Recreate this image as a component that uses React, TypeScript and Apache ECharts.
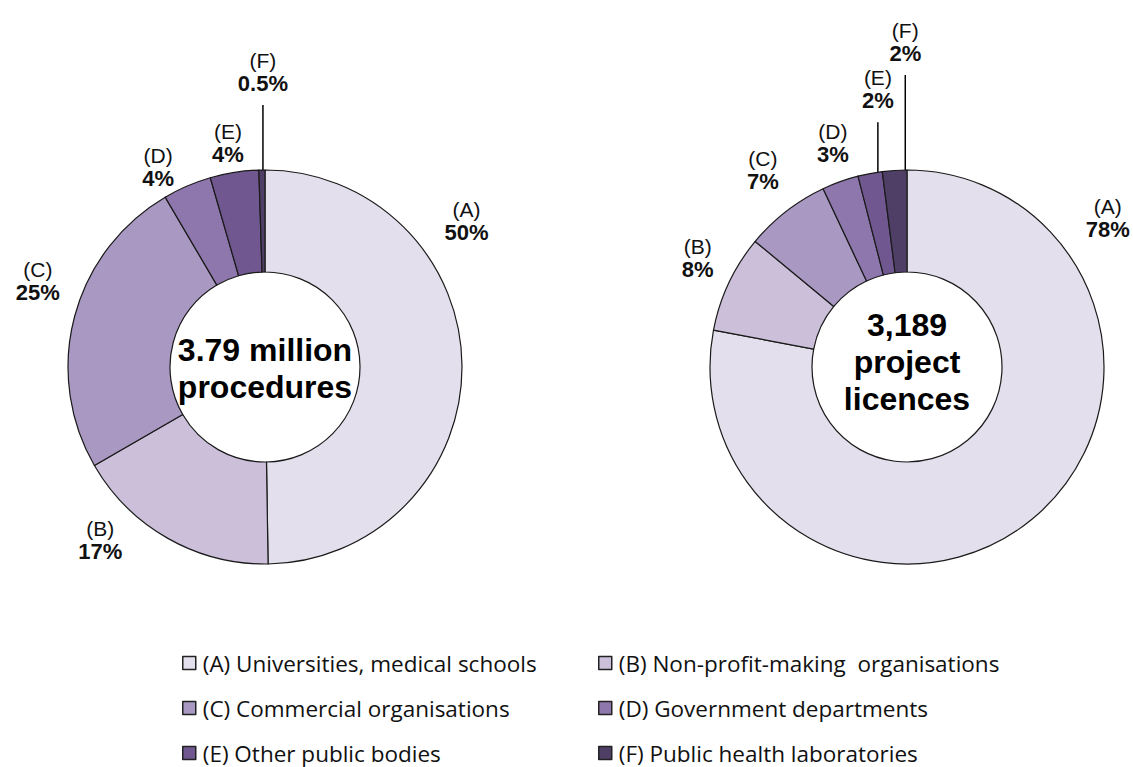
import React, { useEffect, useRef } from "react";
import * as echarts from "echarts";

// ---- Data ----
const categories = [
  "(A) Universities, medical schools",
  "(B) Non-profit-making  organisations",
  "(C) Commercial organisations",
  "(D) Government departments",
  "(E) Other public bodies",
  "(F) Public health laboratories",
];
const procedureShares = [50, 17, 25, 4, 4, 0.5];
const licenceShares = [78, 8, 7, 3, 2, 2];
const procedureTotalText = "3.79 million\nprocedures";
const licenceTotalText = "3,189\nproject\nlicences";

// ---- Styles / layout ----
const sliceColors = ["#E4DFEC", "#CBBFDA", "#A999C2", "#8E77AD", "#715790", "#4F3F66"];
const INNER_R = 95;
const OUTER_R = 197;
const labelFont = '"Liberation Sans", Arial, sans-serif';

type PieCfg = {
  shares: number[];
  centerText: string;
  center: [number, number];
  textDy: number;
  // label placement: polar [angleDeg clockwise from 12 o'clock, distance] of the label centre
  labelPolar: ([number, number] | null)[];
  // leader-line labels: [anchor angle deg, line length above rim]
  leader: Record<number, [number, number]>;
};

const pies: PieCfg[] = [
  {
    shares: procedureShares,
    centerText: procedureTotalText,
    center: [265, 367],
    textDy: 1,
    labelPolar: [[54, 249], [223.6, 239], [290.8, 243], [331.9, 227], [350.6, 227], null],
    leader: { 5: [359.4, 65] },
  },
  {
    shares: licenceShares,
    centerText: licenceTotalText,
    center: [907, 367],
    textDy: -5,
    labelPolar: [[53.4, 250], [297.5, 236], [323.8, 244], [341.7, 236], null, null],
    leader: { 4: [351.5, 50], 5: [359.5, 95] },
  },
];

const rad = (d: number) => (d * Math.PI) / 180;

function layoutLabel(cfg: PieCfg, params: any) {
  const i = params.dataIndex;
  const [cx, cy] = cfg.center;
  const lead = cfg.leader[i];
  if (lead) {
    const [ang, len] = lead;
    const ex = cx + OUTER_R * Math.sin(rad(ang));
    const ey = cy - OUTER_R * Math.cos(rad(ang));
    const top = ey - len;
    return {
      x: ex,
      y: top - 33,
      align: "center",
      verticalAlign: "middle",
      labelLinePoints: [
        [ex, ey],
        [ex, top],
        [ex, top],
      ],
    };
  }
  const p = cfg.labelPolar[i];
  if (!p) return {};
  const [ang, dist] = p;
  return {
    x: cx + dist * Math.sin(rad(ang)),
    y: cy - dist * Math.cos(rad(ang)),
    align: "center",
    verticalAlign: "middle",
  };
}

export default function App() {
  const ref = useRef<HTMLDivElement>(null);
  useEffect(() => {
    if (!ref.current) return;
    const chart = echarts.init(ref.current, undefined, { renderer: "svg" });
    const option: any = {
      animation: false,
      backgroundColor: "#ffffff",
      legend: [0, 1].map((col) => ({
        orient: "vertical",
        left: col === 0 ? 182 : 598,
        top: 651,
        height: 160,
        padding: 0,
        itemWidth: 13,
        itemHeight: 13,
        itemGap: 21,
        icon: "rect",
        selectedMode: false,
        data: categories.filter((_, i) => i % 2 === col),
        itemStyle: { borderColor: "#222", borderWidth: 1.5 },
        textStyle: {
          fontFamily: "'Open Sans', Lato, sans-serif",
          fontSize: 22.5,
          color: "#111",
          lineHeight: 24,
          padding: [0, 0, 0, 2],
        },
      })),
      graphic: pies.map((c) => ({
        type: "text",
        x: c.center[0],
        y: c.center[1] + c.textDy,
        silent: true,
        style: {
          text: c.centerText,
          fontFamily: labelFont,
          fontWeight: "bold",
          fontSize: 32,
          lineHeight: 37,
          fill: "#000",
          align: "center",
          verticalAlign: "middle",
          textAlign: "center",
          textVerticalAlign: "middle",
        },
      })),
      series: pies.map((c) => ({
        type: "pie",
        center: c.center,
        radius: [INNER_R, OUTER_R],
        startAngle: 90,
        clockwise: true,
        avoidLabelOverlap: false,
        silent: true,
        emphasis: { disabled: true },
        itemStyle: { borderColor: "#1a1a1a", borderWidth: 1.2 },
        label: {
          show: true,
          position: "outside",
          formatter: (p: any) => `{a|${p.name.slice(0, 3)}}\n{b|${p.value}%}`,
          rich: {
            a: { fontFamily: labelFont, fontSize: 21, color: "#111", lineHeight: 23 },
            b: { fontFamily: labelFont, fontSize: 22, fontWeight: "bold", color: "#111", lineHeight: 23 },
          },
        },
        labelLine: { show: false, length: 10, length2: 0, lineStyle: { color: "#000", width: 1.5 } },
        labelLayout: (params: any) => layoutLabel(c, params),
        data: c.shares.map((v, i) => ({
          name: categories[i],
          value: v,
          itemStyle: { color: sliceColors[i] },
          labelLine: c.leader[i] ? { show: true } : { show: false },
        })),
      })),
    };
    chart.setOption(option);
    return () => chart.dispose();
  }, []);
  return (
    <div
      ref={ref}
      style={{ position: "fixed", left: 0, top: 0, width: 1133, height: 767, background: "#fff" }}
    />
  );
}
